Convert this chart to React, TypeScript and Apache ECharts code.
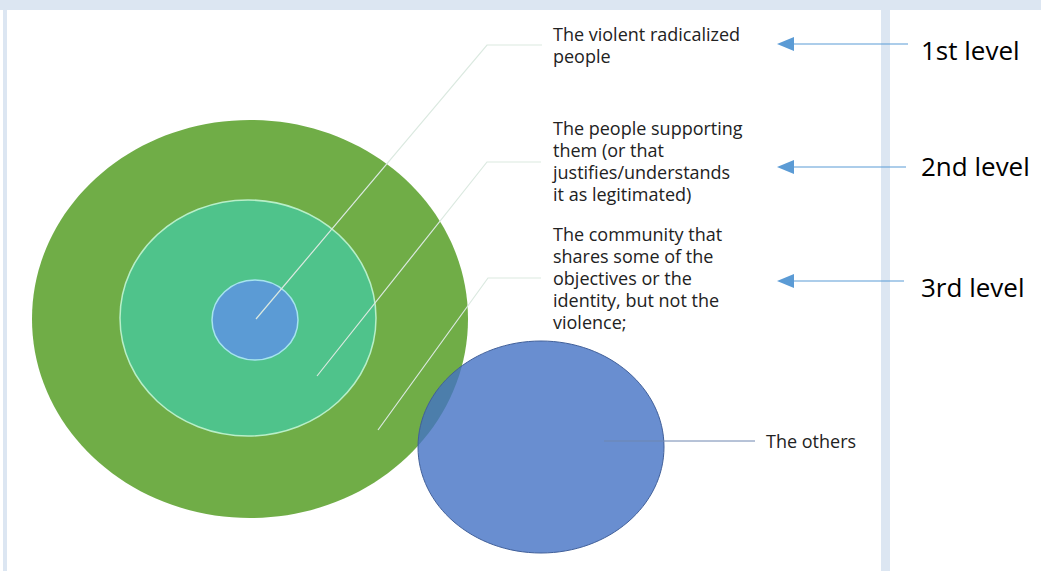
import React, { useEffect, useRef } from "react";
import * as echarts from "echarts";

// ---- content ----
const levelLabels = ["1st level", "2nd level", "3rd level"];
const levelDescriptions = [
  ["The violent radicalized", "people"],
  ["The people supporting", "them (or that", "justifies/understands", "it as legitimated)"],
  ["The community that", "shares some of the", "objectives or the", "identity, but not the", "violence;"],
];
const othersLabel = "The others";

// ---- layout (pixels) ----
const rings = [
  { cx: 250, cy: 319, rx: 218, ry: 199, fill: "#70ad47", stroke: "#70ad47" },
  { cx: 248, cy: 318, rx: 128, ry: 118, fill: "#4fc38b", stroke: "#b8efc8" },
  { cx: 255, cy: 320, rx: 43, ry: 40, fill: "#5b9bd5", stroke: "#a6e4ee" },
];
const othersEllipse = { cx: 541, cy: 447, rx: 123, ry: 106 };
const leaders = [
  [[256, 319], [487, 45], [542, 45]],
  [[317, 376], [487, 162], [541, 162]],
  [[378, 430], [488, 278], [541, 278]],
];
const descTop = [34, 128, 234];
const arrowY = [44, 167, 281];
const arrowRight = [908, 906, 904];
const labelY = [50, 166, 287];

export default function App() {
  const ref = useRef<HTMLDivElement>(null);
  useEffect(() => {
    document.body.style.margin = "0";
    const chart = echarts.init(ref.current!, null, { renderer: "svg" });
    const g: any[] = [];
    const bandColor = "#dce6f2";
    g.push({ type: "rect", shape: { x: 0, y: 0, width: 1041, height: 10 }, style: { fill: bandColor }, silent: true });
    g.push({ type: "rect", shape: { x: 3, y: 10, width: 4, height: 561 }, style: { fill: bandColor } });
    g.push({ type: "rect", shape: { x: 881, y: 10, width: 9, height: 561 }, style: { fill: bandColor } });

    rings.forEach((r, i) => {
      g.push({
        type: "ellipse",
        shape: { cx: r.cx, cy: r.cy, rx: r.rx, ry: r.ry },
        style: { fill: r.fill, stroke: r.stroke, lineWidth: i === 0 ? 0 : 1.5 },
        z: 10 + i,
      });
    });
    g.push({
      type: "ellipse",
      shape: { cx: othersEllipse.cx, cy: othersEllipse.cy, rx: othersEllipse.rx, ry: othersEllipse.ry },
      style: { fill: "rgba(68,114,196,0.8)", stroke: "#41609a", lineWidth: 1 },
      z: 20,
    });
    leaders.forEach((pts) => {
      g.push({
        type: "polyline",
        shape: { points: pts },
        style: { stroke: "#dbe9e0", lineWidth: 1.2, fill: null },
        z: 30,
      });
    });
    g.push({
      type: "line",
      shape: { x1: 604, y1: 441, x2: 755, y2: 441 },
      style: { stroke: "#6f86b0", lineWidth: 1 },
      z: 30,
    });

    levelDescriptions.forEach((lines, i) => {
      lines.forEach((t, j) => {
        g.push({
          type: "text",
          x: 553,
          y: descTop[i] + j * 22,
          style: {
            text: t,
            fill: "#222222",
            font: "18px 'Open Sans'",
            textVerticalAlign: "middle",
          },
          z: 40,
        });
      });
    });
    g.push({
      type: "text",
      x: 766,
      y: 441,
      style: { text: othersLabel, fill: "#222222", font: "18px 'Open Sans'", textVerticalAlign: "middle" },
      z: 40,
    });

    levelLabels.forEach((t, i) => {
      const y = arrowY[i];
      g.push({
        type: "line",
        shape: { x1: 790, y1: y, x2: arrowRight[i], y2: y },
        style: { stroke: "#5b9bd5", lineWidth: 1.2 },
        z: 30,
      });
      g.push({
        type: "polygon",
        shape: { points: [[777, y], [794, y - 7], [794, y + 7]] },
        style: { fill: "#5b9bd5" },
        z: 31,
      });
      g.push({
        type: "text",
        x: 921,
        y: labelY[i],
        style: { text: t, fill: "#000000", font: "26px 'Open Sans'", textVerticalAlign: "middle" },
        z: 40,
      });
    });

    chart.setOption({ animation: false, backgroundColor: "#ffffff", graphic: g });
    return () => chart.dispose();
  }, []);
  return <div ref={ref} style={{ width: 1041, height: 571 }} />;
}
